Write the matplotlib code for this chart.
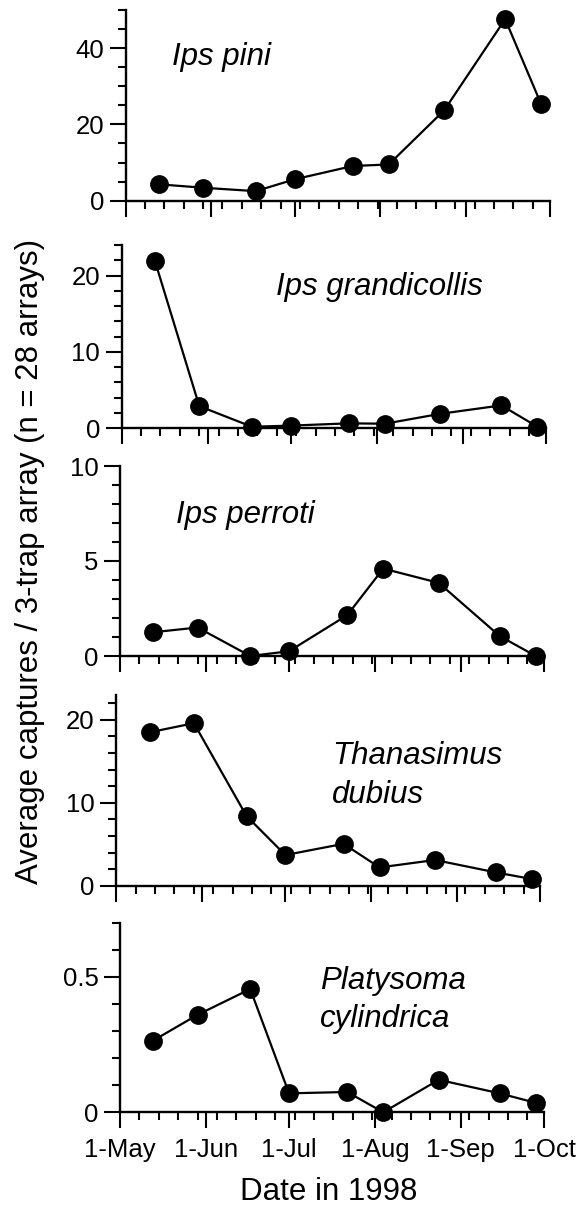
import matplotlib
matplotlib.use("Agg")
import matplotlib.pyplot as plt
import matplotlib.dates as mdates
from matplotlib.ticker import MultipleLocator, FixedLocator, FuncFormatter
import pandas as pd

plt.rcParams['font.family'] = ['Liberation Sans', 'DejaVu Sans']

# ---- data ----
dates = ['1998-05-13', '1998-05-29', '1998-06-17', '1998-07-01', '1998-07-22',
         '1998-08-04', '1998-08-24', '1998-09-15', '1998-09-28']
species = ['Ips pini', 'Ips grandicollis', 'Ips perroti',
           'Thanasimus\ndubius', 'Platysoma\ncylindrica']
ips_pini = [4.3, 3.4, 2.5, 5.6, 9.1, 9.5, 23.7, 47.6, 25.3]
ips_grandicollis = [21.9, 2.9, 0.2, 0.35, 0.65, 0.6, 1.9, 3.0, 0.2]
ips_perroti = [1.25, 1.5, 0.0, 0.25, 2.15, 4.6, 3.85, 1.05, 0.0]
thanasimus_dubius = [18.5, 19.6, 8.4, 3.7, 5.05, 2.2, 3.1, 1.6, 0.8]
platysoma_cylindrica = [0.265, 0.36, 0.455, 0.07, 0.075, 0.0, 0.12, 0.07, 0.035]
series = [ips_pini, ips_grandicollis, ips_perroti, thanasimus_dubius, platysoma_cylindrica]

y_max = [50, 24, 10, 23, 0.7]
y_major = [20, 10, 5, 10, 0.5]
y_minor = [5, 2, 1, 2, 0.1]
month_ticks = ['1998-05-01', '1998-06-01', '1998-07-01', '1998-08-01', '1998-09-01', '1998-10-01']
month_labels = ['1-May', '1-Jun', '1-Jul', '1-Aug', '1-Sep', '1-Oct']

# ---- layout (pixels) ----
W, H = 587, 1207
boxes = [  # left, top, bottom
    (125.5, 10.0, 200.7),
    (121.7, 245.0, 428.3),
    (120.0, 466.0, 656.0),
    (116.3, 695.0, 885.7),
    (120.0, 922.7, 1112.3),
]
axw = 424.0
label_pos = [(0.110, 0.712), (0.364, 0.727), (0.132, 0.698), (0.508, 0.435), (0.472, 0.448)]

fig = plt.figure(figsize=(W / 100, H / 100), dpi=100)

x = pd.to_datetime(dates)
xmin = pd.Timestamp('1998-05-01')
xmax = pd.Timestamp('1998-10-01')
weekly = pd.date_range('1998-05-01', '1998-10-01', freq='7D')

for i, (left, top, bottom) in enumerate(boxes):
    ax = fig.add_axes([left / W, 1 - bottom / H, axw / W, (bottom - top) / H])
    ax.plot(x, series[i], color='black', lw=1.6, marker='o', ms=12.5,
            mfc='black', mec='black', clip_on=False, zorder=3)
    ax.set_xlim(xmin, xmax)
    ax.set_ylim(0, y_max[i])
    for s in ['top', 'right']:
        ax.spines[s].set_visible(False)
    for s in ['left', 'bottom']:
        ax.spines[s].set_linewidth(1.7)
    ax.xaxis.set_major_locator(FixedLocator(mdates.date2num(pd.to_datetime(month_ticks))))
    ax.xaxis.set_minor_locator(FixedLocator(mdates.date2num(weekly)))
    ax.yaxis.set_major_locator(MultipleLocator(y_major[i]))
    ax.yaxis.set_minor_locator(MultipleLocator(y_minor[i]))
    ax.yaxis.set_major_formatter(FuncFormatter(lambda v, p: '{:g}'.format(round(v, 6))))
    ax.tick_params(which='major', direction='out', length=11.5, width=1.5,
                   labelsize=18.5, pad=4)
    ax.tick_params(which='minor', direction='out', length=6, width=1.5)
    if i == len(boxes) - 1:
        ax.set_xticklabels(month_labels)
        ax.tick_params(axis='x', which='major', pad=7)
    else:
        ax.set_xticklabels([])
    ax.text(label_pos[i][0], label_pos[i][1], species[i], transform=ax.transAxes,
            fontsize=22.5, style='italic', ha='left', va='baseline', linespacing=1.38)

fig.text(30 / W, 1 - 561 / H, 'Average captures / 3-trap array (n = 28 arrays)',
         rotation=90, ha='center', va='center', fontsize=22.5)
fig.text(329 / W, 1 - 1200 / H, 'Date in 1998', ha='center', va='baseline', fontsize=22.5)

fig.savefig('out.png', dpi=100)
